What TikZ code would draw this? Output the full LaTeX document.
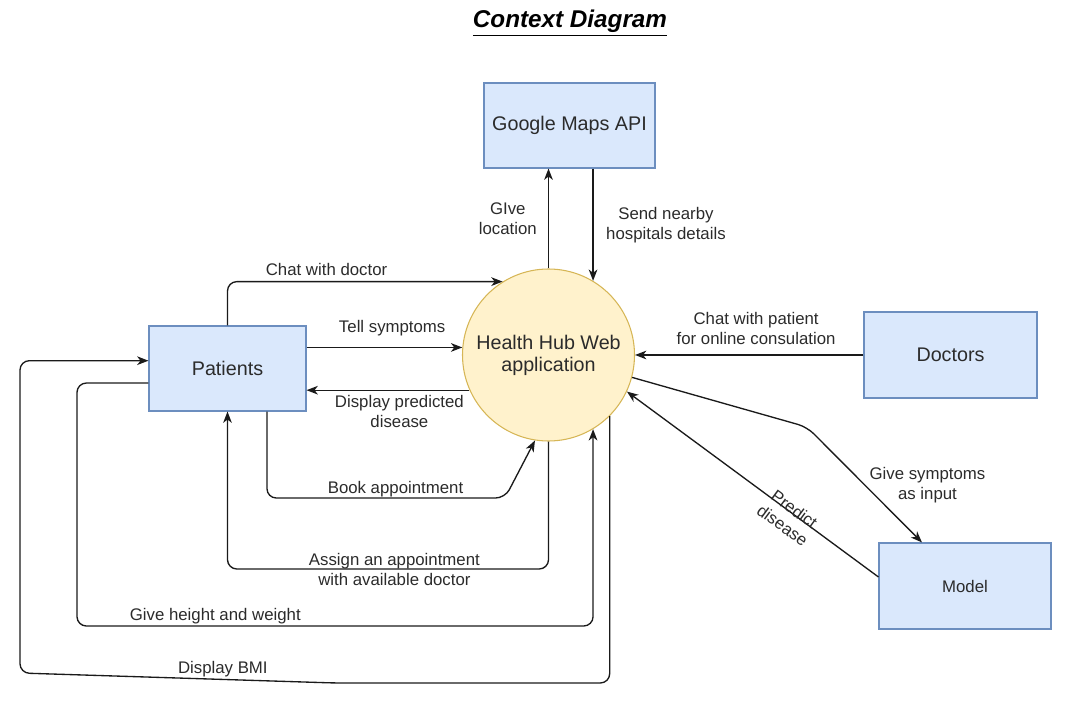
\documentclass[tikz,border=0pt]{standalone}
\usepackage{fontspec}
\setmainfont{Liberation Sans}
\usetikzlibrary{arrows.meta,positioning,calc}

\definecolor{boxfill}{HTML}{DAE8FC}
\definecolor{boxline}{HTML}{6C8EBF}
\definecolor{hubfill}{HTML}{FFF2CC}
\definecolor{hubline}{HTML}{D6B656}
\definecolor{txt}{HTML}{2B2B2B}
\definecolor{flowline}{HTML}{1A1A1A}

\begin{document}
\begin{tikzpicture}[
    x=0.75pt, y=-0.75pt,
    >={Stealth[length=8.5pt,width=6.5pt,inset=2.5pt]},
    entity/.style={
        draw=boxline,
        fill=boxfill,
        line width=0.8pt,
        text=txt,
        align=center,
        font=\fontsize{14.8}{17.5}\selectfont,
        minimum width=129pt,
        minimum height=64.5pt
    },
    process/.style={
        circle,
        draw=hubline,
        fill=hubfill,
        line width=0.8pt,
        text=txt,
        align=center,
        inner sep=0pt,
        font=\fontsize{14.8}{16.5}\selectfont,
        minimum size=129pt
    },
    flow/.style={->, draw=flowline, line width=1pt, rounded corners=7pt},
    lbl/.style={font=\fontsize{12.6}{15}\selectfont, align=center, text=txt}
]
\useasboundingbox (0,0) rectangle (1068,723);

% title
\node[font=\fontsize{18.2}{22}\selectfont\bfseries\itshape, text=black] (title) at (570,23) {\underline{Context Diagram}};

% external entities and the process
\node[process] (hub) at (548.5,355) {Health Hub Web\\application};
\node[entity, minimum width=128.25pt, minimum height=63.75pt] (maps) at (569.5,125.5) {Google Maps API};
\node[entity, minimum width=117.75pt, minimum height=63.75pt] (patients) at (227.5,368.5) {Patients};
\node[entity, minimum width=129.75pt] (doctors) at (950.5,355) {Doctors};
\node[entity, font=\fontsize{12.6}{15}\selectfont] (model) at (965,586) {Model};

% bend points
\coordinate (bookbend) at (505,498);
\coordinate (assignlvl) at (0,569);
\coordinate (heightlvl) at (77,626);
\coordinate (bmikink) at (335,683);
\coordinate (bmicorner) at (20,673);
\coordinate (sympbend) at (807,427);

% google maps
\draw[flow] (hub.north) -- (hub.north |- maps.south) node[lbl, midway, left=5pt] {GIve\\location};
\draw[flow] (hub.59 |- maps.south) -- (hub.59) node[lbl, midway, right=6pt] {Send nearby\\hospitals details};

% patients
\draw[flow] (patients.north) |- node[lbl, pos=0.68, above=1pt] {Chat with doctor} (hub.122);
\draw[flow] (hub.175 -| patients.east) -- (hub.175) node[lbl, pos=0.55, above=5pt] {Tell symptoms};
\draw[flow] (hub.204) -- (hub.204 -| patients.east) node[lbl, pos=0.43, below] {Display predicted\\disease};
\draw[flow] ([xshift=29.6pt]patients.south) |- node[lbl, pos=0.77, above=-3pt] {Book appointment} (bookbend) -- (hub.261);
\draw[flow] (hub.south) |- node[lbl, pos=0.74] {Assign an appointment\\with available doctor} (assignlvl -| patients.south) -- (patients.south);
\draw[flow] ([yshift=-10.9pt]patients.west) -| (heightlvl) -| node[lbl, pos=0.134, above=-2pt] {Give height and weight} (hub.301);
\draw[flow] (hub.315) |- (bmikink) -- node[lbl, pos=0.356, above=-2pt] {Display BMI} (bmicorner) |- ([yshift=5.85pt]patients.west);

% doctors and model
\draw[flow] (doctors.west) -- (hub.east) node[lbl, pos=0.47, above=4pt] {Chat with patient\\for online consulation};
\draw[flow] (hub.-15) -- (sympbend) -- ([xshift=-32.25pt]model.north) node[lbl, pos=0.5, right] {Give symptoms\\as input};
\draw[flow] ([yshift=6.75pt]model.west) -- (hub.-25) node[lbl, sloped, pos=0.345, yshift=-4pt] {Predict\\disease};

\end{tikzpicture}
\end{document}
